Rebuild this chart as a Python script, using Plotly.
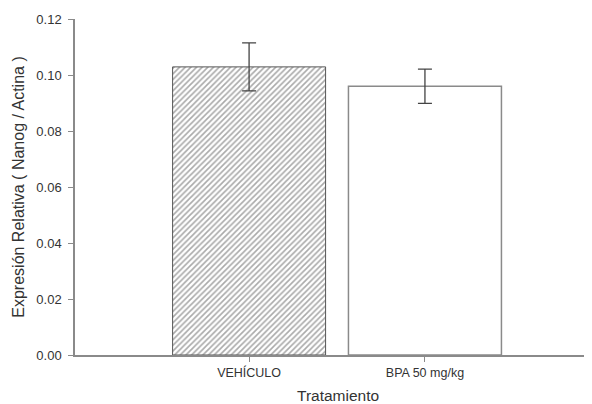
import plotly.graph_objects as go

categories = ["VEHÍCULO", "BPA 50 mg/kg"]
values = [0.1029, 0.0960]
errors = [0.0086, 0.0061]
y_ticks = [0.00, 0.02, 0.04, 0.06, 0.08, 0.10, 0.12]

fig = go.Figure()
fig.add_trace(go.Bar(
    x=[categories[0]], y=[values[0]],
    width=0.87,
    marker=dict(color="white",
                line=dict(color="#555555", width=1),
                pattern=dict(shape="/", fgcolor="#555555", bgcolor="white",
                             size=4, solidity=0.4)),
    error_y=dict(type="data", array=[errors[0]], color="#444444",
                 thickness=1.3, width=7),
    showlegend=False,
))
fig.add_trace(go.Bar(
    x=[categories[1]], y=[values[1]],
    width=0.87,
    marker=dict(color="white", line=dict(color="#8a8a8a", width=1.5)),
    error_y=dict(type="data", array=[errors[1]], color="#444444",
                 thickness=1.3, width=7),
    showlegend=False,
))

fig.update_layout(
    width=584, height=396,
    margin=dict(l=67, r=0, t=11, b=49),
    paper_bgcolor="white", plot_bgcolor="white",
    font=dict(family="Liberation Sans, Arial", color="#333333"),
    barmode="overlay",
    xaxis=dict(
        type="category", categoryorder="array", categoryarray=categories,
        range=[-0.99, 1.95],
        showline=True, linecolor="#8a8a8a", linewidth=1.5,
        ticks="outside", ticklen=5, tickcolor="#8a8a8a", tickwidth=1,
        tickfont=dict(size=12.5, color="#333333"),
        showgrid=False, zeroline=False,
    ),
    yaxis=dict(
        range=[0, 0.12], tickvals=y_ticks, tickformat=".2f",
        showline=True, linecolor="#8a8a8a", linewidth=1.5,
        ticks="outside", ticklen=5, tickcolor="#8a8a8a", tickwidth=1,
        ticklabelstandoff=4,
        tickfont=dict(size=13, color="#333333"),
        showgrid=False, zeroline=False,
        title=dict(text="Expresión Relativa ( Nanog / Actina )",
                   font=dict(size=16, color="#333333"), standoff=8),
    ),
    annotations=[dict(
        text="Tratamiento", xref="paper", yref="paper",
        x=(330 - 67) / (584 - 67), y=0, yshift=-40, yanchor="middle",
        xanchor="center",
        showarrow=False, font=dict(size=15.5, color="#333333"),
    )],
)

fig.write_html("out.html")
